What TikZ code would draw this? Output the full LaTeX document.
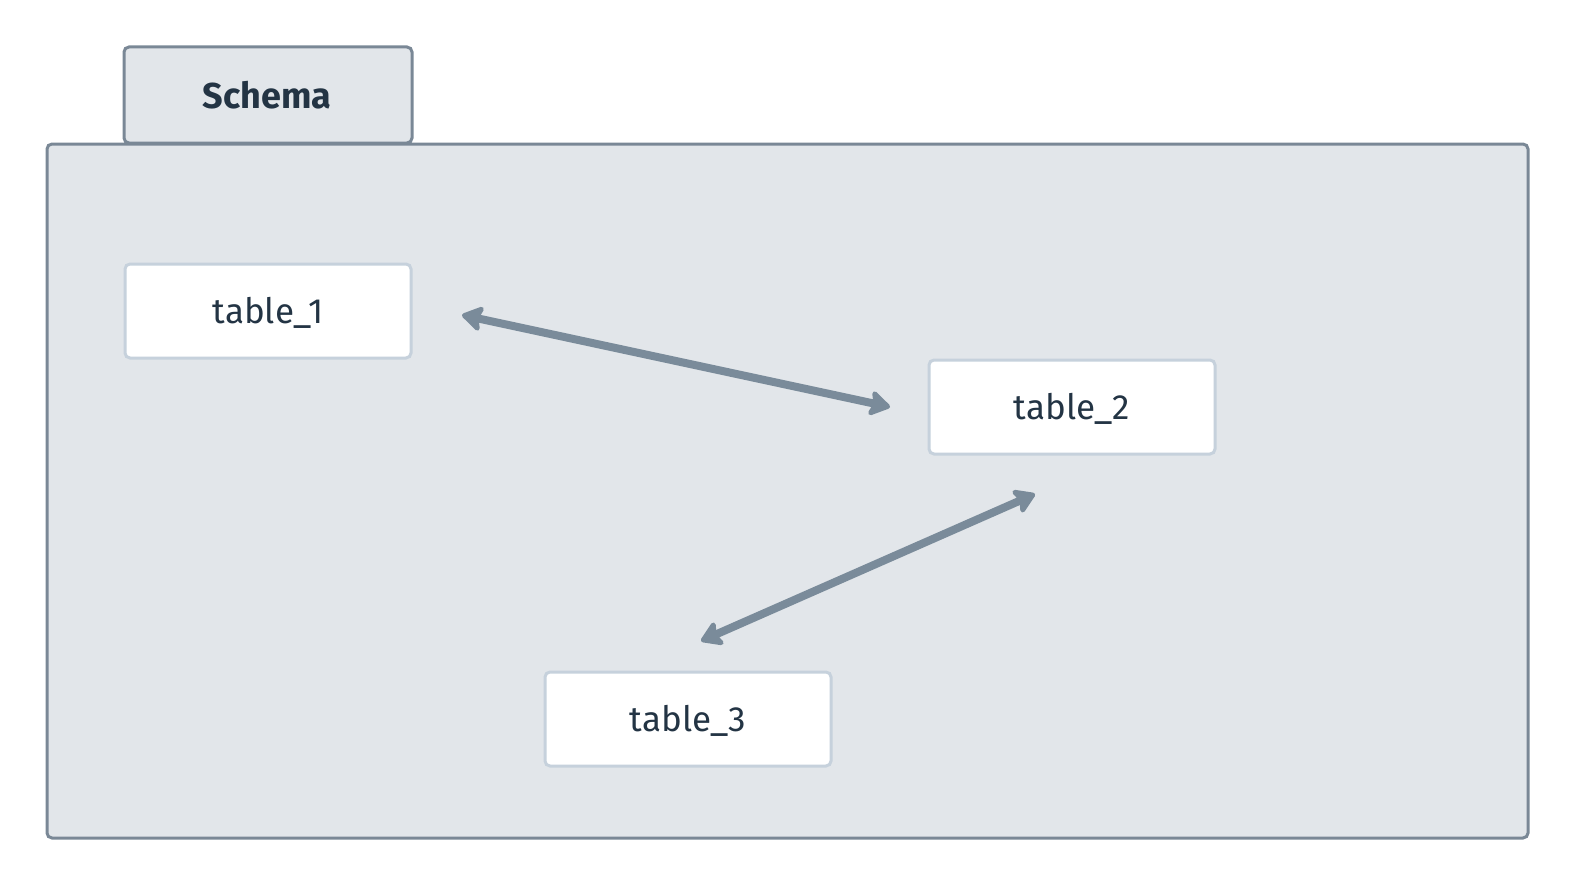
\documentclass[tikz,border=0pt]{standalone}
\usepackage{fontspec}
\setmainfont{Fira Sans}
\usetikzlibrary{arrows.meta}
\definecolor{panelfill}{HTML}{E2E6EA}
\definecolor{panelline}{HTML}{7A8896}
\definecolor{cardline}{HTML}{C6D1DC}
\definecolor{inktext}{HTML}{233444}
\definecolor{linkline}{HTML}{7A8B9A}
\tikzset{
  panel/.style={draw=panelline, fill=panelfill, line width=3pt, rounded corners=5pt},
  tabel/.style={draw=cardline, fill=white, line width=3pt, rounded corners=5pt,
    minimum width=286pt, minimum height=94pt, inner sep=0pt,
    text height=25pt, text depth=0pt,
    font=\fontsize{35}{40}\selectfont, text=inktext},
  link/.style={draw=linkline, line width=8pt,
    >={Stealth[length=24pt, width=30pt, inset=5pt, round]}, <->}
}
\begin{document}
\begin{tikzpicture}[x=1pt, y=-1pt]
  \useasboundingbox (0,0) rectangle (1576,888);
  % schema tab and body
  \draw[panel] (124,47) rectangle (412,143);
  \node[font=\bfseries\fontsize{36}{40}\selectfont, text=inktext, inner sep=0pt,
        text height=26pt, text depth=0pt] (schema) at (267,96) {Schema};
  \draw[panel] (47,144) rectangle (1528,838);
  % tables
  \node[tabel] (t1) at (268,311) {table\_1};
  \node[tabel] (t2) at (1072,407) {table\_2};
  \node[tabel] (t3) at (688,719) {table\_3};
  % relations
  \coordinate (a1) at (462,315);
  \coordinate (a2) at (890,407);
  \coordinate (b1) at (701,641);
  \coordinate (b2) at (1035,494);
  \draw[link] (a1) -- (a2);
  \draw[link] (b1) -- (b2);
\end{tikzpicture}
\end{document}
